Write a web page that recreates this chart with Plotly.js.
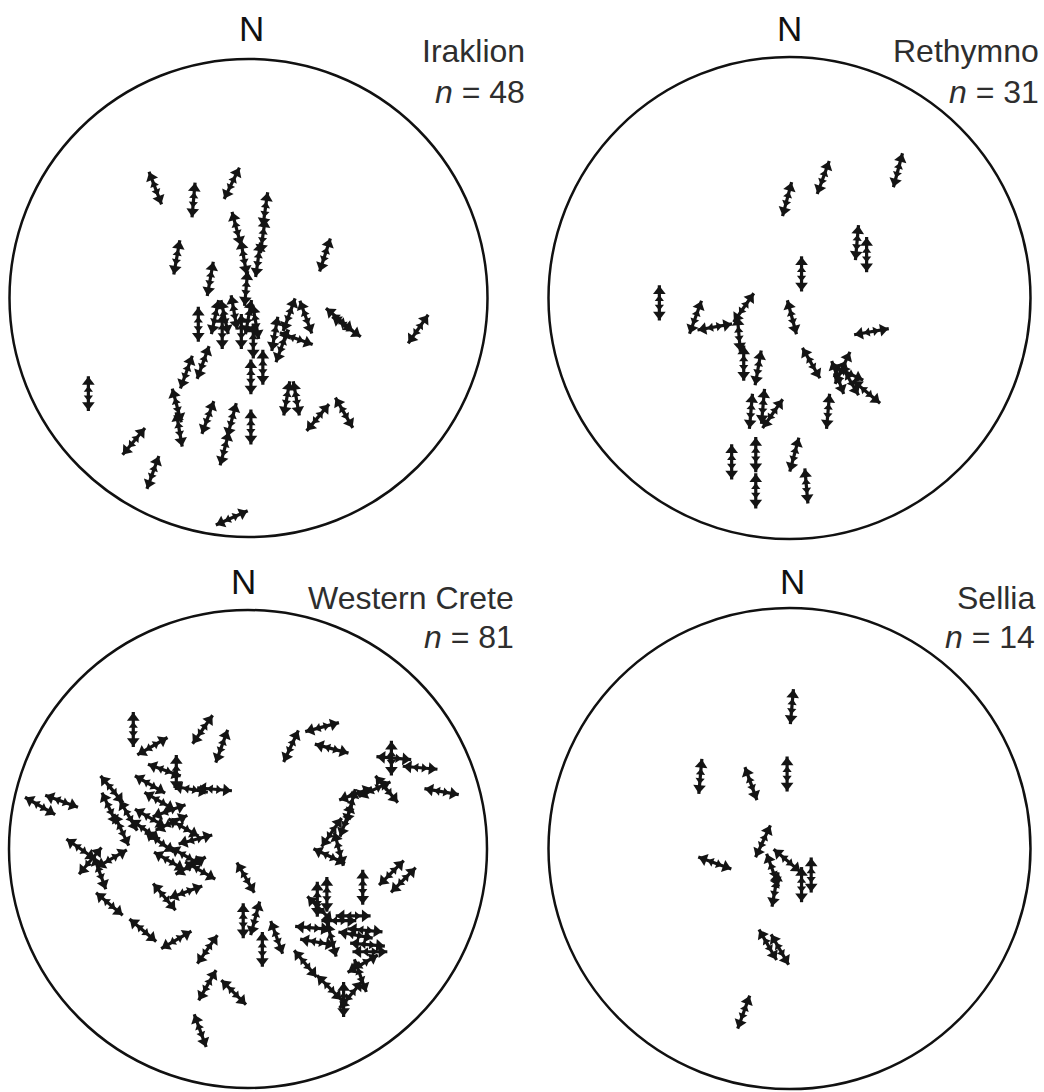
<!DOCTYPE html>
<html><head><meta charset="utf-8">
<script src="https://cdn.plot.ly/plotly-3.0.1.min.js"></script>
<style>html,body{margin:0;padding:0;background:#fff;}</style>
</head><body>
<div id="chart" style="width:1044px;height:1092px;"></div>
<script>
// Net coordinates in % of primitive radius (east, north); az = arrow azimuth (deg, clockwise from N)
const irakX  = [-39,-23,-7,-5,-2,-1,7,6,4,-30,32,-16,-21,-14,-10,-6,0,3,-11,-3,2,17,24,20,11,14,38,41,71,1,6,-19,-26,16,20,29,40,-30,-29,-17,-7,-10,1,-40,-48,-67,-7];
const irakY  = [46,41,48,29,17,4,37,26,16,17,18,8,-11,-8,-8,-6,-8,-10,-14,-14,-18,-7,-8,-17,-15,-20,-9,-12,-13,-33,-29,-27,-31,-42,-42,-50,-48,-45,-55,-50,-51,-63,-54,-73,-60,-40,-92];
const irakAz = [339,5,26,345,350,5,8,8,8,10,18,10,0,12,348,350,10,350,0,0,0,20,340,110,10,20,310,305,35,0,0,20,20,10,350,40,330,345,350,20,15,15,0,20,40,0,66];

const rethX  = [45,14,-1,28,32,5,-54,-39,-31,-19,-21,-19,-13,-16,-11,-7,1,34,9,22,24,20,25,32,16,-24,-14,-14,2,7];
const rethY  = [53,50,41,23,18,10,-2,-8,-12,-4,-15,-27,-29,-47,-45,-48,-8,-14,-27,-29,-31,-33,-34,-39,-47,-68,-65,-80,-65,-78];
const rethAz = [15,20,15,5,0,0,0,20,80,35,355,0,10,5,5,35,345,80,330,25,295,340,330,310,5,0,0,0,15,355];

const westX  = [-48,-40,-19,-11,-35,-30,-24,-14,-87,-78,-57,-58,-53,-37,-33,-41,-27,-37,-26,-24,-20,-70,-57,-62,-35,-26,-58,-44,-30,-1,-17,
                18,31,35,60,61,72,81,58,53,45,43,41,35,34,38,48,60,65,-2,3,6,12,29,30,27,29,35,44,49,50,51,48,47,24,34,40,43,-17,-6,-20,
                -41,-32,-43,-22,-33,-50,-66,33,45,38];
const westY  = [50,43,50,43,33,32,25,25,18,20,25,17,8,20,16,13,9,3,-3,-7,-9,0,-4,-10,-20,-18,-23,-34,-38,-12,-42,
                43,51,42,38,38,34,24,25,25,23,18,12,7,-3,0,-16,-10,-13,-30,-29,-42,-37,-21,-25,-33,-39,-38,-28,-34,-40,-43,-48,-53,-48,-58,-63,-61,-57,-60,-76,
                27,11,8,4,-5,14,-5,-19,-36,-30];
const westAz = [0,60,35,20,110,0,280,95,300,290,320,335,335,300,70,300,300,305,300,60,300,305,60,340,320,70,310,310,60,330,35,
                25,75,105,0,95,95,100,320,65,70,15,20,35,115,345,0,45,45,0,15,0,340,0,315,95,100,345,90,95,95,90,60,340,320,315,0,40,30,315,340,
                300,65,305,75,300,330,40,0,100,90];

const sellX  = [-37,-16,-1,1,-11,-31,-7,-6,-1,5,9,-9,-4,-19];
const sellY  = [30,27,31,59,3,-6,-9,-17,-5,-15,-11,-40,-42,-68];
const sellAz = [5,340,0,5,25,110,340,10,130,0,0,330,330,20];

const panelNames  = ['Iraklion','Rethymno','Western Crete','Sellia'];
const panelCounts = [48,31,81,14];
const panelData   = [[irakX,irakY,irakAz],[rethX,rethY,rethAz],[westX,westY,westAz],[sellX,sellY,sellAz]];

// ---- layout geometry (pixels of the page) ----
const W = 1044, H = 1092;
const geo = [
  {cx:248.5, cy:298, r:239, nx:251, ny:28, lx:527, ly1:51, ly2:92},
  {cx:789.5, cy:298, r:241, nx:789, ny:28, lx:1041, ly1:51, ly2:92},
  {cx:248,   cy:849, r:239, nx:243, ny:581, lx:516, ly1:598, ly2:637},
  {cx:789.5, cy:849, r:241, nx:792, ny:581, lx:1037, ly1:598, ly2:637}
];
const PAD = 1.012, HALF = 7.3;
const INK = '#141414';
const traces = [], shapes = [], annotations = [];
const layout = {width:W, height:H, margin:{l:0,r:0,t:0,b:0}, showlegend:false,
  paper_bgcolor:'#fff', plot_bgcolor:'rgba(0,0,0,0)', font:{family:'Liberation Sans, Arial, sans-serif'}};
const fontTxt = {family:'Liberation Sans, Arial, sans-serif', size:32, color:'#2e2e2e'};

geo.forEach((g, i) => {
  const sfx = i === 0 ? '' : String(i + 1);
  const ax = {range:[-100*PAD, 100*PAD], visible:false, fixedrange:true,
              domain:[(g.cx - g.r*PAD)/W, (g.cx + g.r*PAD)/W]};
  const ay = {range:[-100*PAD, 100*PAD], visible:false, fixedrange:true,
              domain:[Math.max(0, 1 - (g.cy + g.r*PAD)/H), Math.min(1, 1 - (g.cy - g.r*PAD)/H)]};
  layout['xaxis' + sfx] = Object.assign({anchor:'y' + sfx}, ax);
  layout['yaxis' + sfx] = Object.assign({anchor:'x' + sfx}, ay);
  shapes.push({type:'circle', xref:'x' + sfx, yref:'y' + sfx, x0:-100, x1:100, y0:-100, y1:100,
               line:{color:'#111', width:2.5}, layer:'below'});

  const [xs, ys, az] = panelData[i];
  const lx = [], ly = [], mx = [], my = [], ma = [], qx = [], qy = [], qa = [];
  for (let k = 0; k < xs.length; k++) {
    const s = Math.sin(az[k]*Math.PI/180), c = Math.cos(az[k]*Math.PI/180);
    lx.push(xs[k] - HALF*s, xs[k] + HALF*s, null);
    ly.push(ys[k] - HALF*c, ys[k] + HALF*c, null);
    const e = HALF*0.66, f = HALF*0.22;
    mx.push(xs[k] + e*s, xs[k] - e*s); my.push(ys[k] + e*c, ys[k] - e*c);
    ma.push(az[k], az[k] + 180);
    qx.push(xs[k] + f*s, xs[k] - f*s); qy.push(ys[k] + f*c, ys[k] - f*c);
    qa.push(az[k], az[k] + 180);
  }
  traces.push({type:'scatter', mode:'lines', x:lx, y:ly, xaxis:'x' + sfx, yaxis:'y' + sfx,
               line:{color:INK, width:3.2}, hoverinfo:'skip', cliponaxis:false});
  traces.push({type:'scatter', mode:'markers', x:mx, y:my, xaxis:'x' + sfx, yaxis:'y' + sfx,
               marker:{symbol:'triangle-up', size:11, angle:ma, color:INK, line:{width:0}},
               hoverinfo:'skip', cliponaxis:false});
  traces.push({type:'scatter', mode:'markers', x:qx, y:qy, xaxis:'x' + sfx, yaxis:'y' + sfx,
               marker:{symbol:'triangle-up', size:8, angle:qa, color:INK, line:{width:0}},
               hoverinfo:'skip', cliponaxis:false});

  annotations.push({xref:'paper', yref:'paper', x:g.nx/W, y:1 - g.ny/H, xanchor:'center', yanchor:'middle',
                    text:'N', showarrow:false, font:{family:'Liberation Sans, Arial, sans-serif', size:35, color:'#111'}});
  annotations.push({xref:'paper', yref:'paper', x:g.lx/W, y:1 - g.ly1/H, xanchor:'right', yanchor:'middle',
                    text:panelNames[i], showarrow:false, font:fontTxt});
  annotations.push({xref:'paper', yref:'paper', x:g.lx/W, y:1 - g.ly2/H, xanchor:'right', yanchor:'middle',
                    text:'<i>n</i> = ' + panelCounts[i], showarrow:false, font:fontTxt});
});
layout.shapes = shapes;
layout.annotations = annotations;
Plotly.newPlot('chart', traces, layout, {staticPlot:true, displayModeBar:false});
</script>
</body></html>
